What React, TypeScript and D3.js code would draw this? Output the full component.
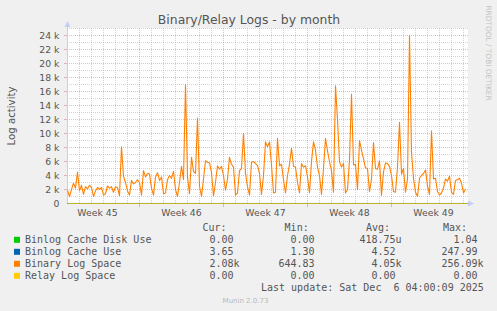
import React from "react";
import * as d3 from "d3";

const W = 497;
const H = 311;

const chartTitle = "Binary/Relay Logs - by month";
const yAxisTitle = "Log activity";
const watermark = "RRDTOOL / TOBI OETIKER";
const versionText = "Munin 2.0.73";
const lastUpdate = "Last update: Sat Dec  6 04:00:09 2025";

const weekLabels = ["Week 45", "Week 46", "Week 47", "Week 48", "Week 49"];
const weekStartDays = [-1, 6, 13, 20, 27];
const totalDays = 400 / 12;
const yTickValues = [0, 2000, 4000, 6000, 8000, 10000, 12000, 14000, 16000, 18000, 20000, 22000, 24000];
const yMax = 25000;

// Binary Log Space, in thousands, one sample every 4 hours
const binaryLogSpace = [
  1.9, 1.0, 2.0, 2.9, 2.2, 4.5, 1.8, 2.6, 1.3, 2.4, 2.1, 2.6,
  2.3, 1.0, 1.8, 2.3, 2.0, 2.3, 1.2, 1.4, 2.5, 2.2, 2.4, 1.6,
  2.4, 2.3, 1.1, 8.1, 3.9, 3.0, 1.8, 1.2, 3.3, 2.8, 3.0, 3.4,
  3.0, 1.2, 4.7, 3.8, 4.3, 4.2, 2.2, 1.2, 3.8, 4.4, 3.3, 3.8,
  1.4, 1.5, 3.4, 4.0, 3.6, 4.6, 2.0, 1.0, 3.0, 5.3, 3.4, 17.0,
  3.8, 1.4, 6.6, 4.6, 4.3, 12.2, 2.5, 1.0, 3.5, 6.1, 5.9, 5.8,
  4.4, 1.1, 3.0, 5.4, 4.9, 5.3, 4.0, 1.9, 3.5, 6.6, 5.6, 5.2,
  1.2, 1.5, 4.7, 5.0, 10.0, 4.3, 2.4, 1.2, 5.9, 6.0, 5.7, 5.4,
  4.3, 1.3, 4.0, 8.8, 8.1, 8.8, 5.5, 1.5, 1.6, 9.3, 5.4, 5.6,
  3.4, 1.5, 4.0, 5.6, 7.9, 5.3, 5.2, 3.0, 1.5, 5.7, 5.2, 5.4,
  3.8, 1.5, 6.0, 8.8, 7.6, 5.2, 4.0, 1.3, 5.0, 9.3, 7.5, 6.0,
  4.7, 1.6, 16.8, 12.0, 6.0, 5.2, 5.7, 1.5, 2.0, 6.2, 15.6, 5.5,
  5.6, 2.0, 9.0, 7.6, 6.4, 5.1, 5.0, 1.7, 3.5, 8.7, 5.0, 4.9,
  6.1, 1.2, 4.5, 5.8, 5.7, 5.3, 4.0, 1.7, 1.6, 5.2, 11.6, 4.2,
  5.0, 1.6, 3.5, 24.0, 7.3, 3.6, 1.6, 1.0, 3.6, 4.0, 4.3, 4.8,
  2.5, 1.3, 10.4, 3.5, 3.6, 1.7, 1.2, 1.5, 2.2, 3.5, 3.2, 3.9,
  1.6, 1.3, 3.3, 3.4, 3.6, 2.9, 1.5, 2.08,
];

const seriesNames = ["Binlog Cache Disk Use", "Binlog Cache Use", "Binary Log Space", "Relay Log Space"];
const seriesColors = ["#00CC00", "#0066B3", "#FF8000", "#FFCC00"];
const curValues = ["0.00", "3.65", "2.08k", "0.00"];
const minValues = ["0.00", "1.30", "644.83", "0.00"];
const avgValues = ["418.75u", "4.52", "4.05k", "0.00"];
const maxValues = ["1.04", "247.99", "256.09k", "0.00"];
const flatLevels = [0.00041875, 4.52, null, 0];

const plotLeft = 67;
const plotRight = 467;
const plotTop = 28;
const plotBottom = 203;

const CW = 6.02; // mono char advance at 10px

export default function App() {
  const x = d3.scaleLinear().domain([0, totalDays]).range([plotLeft + 0.5, plotRight + 0.5]);
  const y = d3.scaleLinear().domain([0, yMax]).range([plotBottom + 0.5, plotTop + 0.5]);

  const samples = binaryLogSpace.map((v, i) => ({ t: i / 6, v: v * 1000 }));
  const line = d3
    .line<{ t: number; v: number }>()
    .x((d) => x(d.t))
    .y((d) => y(d.v));

  const minorY = d3.range(1000, yMax + 1, 1000).filter((v) => v % 2000 !== 0);
  const majorY = yTickValues.filter((v) => v > 0);
  const dayLines = d3.range(1, Math.floor(totalDays) + 1).filter((d) => !weekStartDays.includes(d));
  const weekLines = weekStartDays.filter((d) => d > 0 && d < totalDays);

  const minorStroke = "rgba(150,150,150,0.42)";
  const majorStroke = "rgba(225,80,80,0.42)";
  const textColor = "#555";
  const mono = "'DejaVu Sans Mono', monospace";
  const sans = "'DejaVu Sans', sans-serif";

  const numStart = (s: string, right: number) => {
    const n = s.replace(/[a-zA-Z]$/, "").length;
    return right - n * CW + 0.6;
  };

  const rowBase = [243.3, 255.3, 267.3, 279.3];

  return (
    <svg
      width={W}
      height={H}
      style={{ position: "absolute", left: 0, top: 0, display: "block" }}
      xmlns="http://www.w3.org/2000/svg"
    >
      <rect x={0} y={0} width={W} height={H} fill="#F0F0F0" />
      <rect x={plotLeft} y={plotTop} width={plotRight - plotLeft + 1} height={plotBottom - plotTop} fill="#FFFFFF" />

      {minorY.map((v) => (
        <line key={"my" + v} x1={plotLeft} x2={plotRight + 1} y1={y(v)} y2={y(v)} stroke={minorStroke} strokeDasharray="1,1" />
      ))}
      {dayLines.map((d) => (
        <line key={"dx" + d} x1={x(d)} x2={x(d)} y1={plotTop} y2={plotBottom} stroke={minorStroke} strokeDasharray="1,1" />
      ))}
      {majorY.map((v) => (
        <g key={"My" + v}>
          <line x1={plotLeft} x2={plotRight + 1} y1={y(v)} y2={y(v)} stroke={majorStroke} strokeDasharray="1,1" />
          <line x1={plotLeft - 3} x2={plotLeft} y1={y(v)} y2={y(v)} stroke={majorStroke} />
        </g>
      ))}
      {weekLines.map((d) => (
        <g key={"wx" + d}>
          <line x1={x(d)} x2={x(d)} y1={plotTop} y2={plotBottom} stroke={majorStroke} strokeDasharray="1,1" />
          <line x1={x(d)} x2={x(d)} y1={plotBottom} y2={plotBottom + 4} stroke={majorStroke} />
        </g>
      ))}

      <line x1={plotLeft + 0.5} x2={plotLeft + 0.5} y1={plotBottom + 1} y2={24} stroke="#c5cdf5" />
      <path d={`M${plotLeft - 2.5},27 L${plotLeft + 0.5},21 L${plotLeft + 3.5},27 Z`} fill="#c5cdf5" />
      <line x1={plotLeft} x2={plotRight + 3} y1={plotBottom + 0.5} y2={plotBottom + 0.5} stroke="#c5cdf5" />
      <path d={`M${plotRight + 1},${plotBottom - 2.5} L${plotRight + 7},${plotBottom + 0.5} L${plotRight + 1},${plotBottom + 3.5} Z`} fill="#c5cdf5" />

      {flatLevels.map((lv, i) =>
        lv === null ? null : (
          <line
            key={"flat" + i}
            x1={x(0)}
            x2={x(totalDays)}
            y1={y(lv)}
            y2={y(lv)}
            stroke={seriesColors[i]}
            strokeWidth={1}
            opacity={i === 3 ? 0.75 : 1}
          />
        )
      )}
      <path d={line(samples) || ""} fill="none" stroke={seriesColors[2]} strokeWidth={1.1} strokeLinejoin="round" />

      {yTickValues.map((v) => (
        <text key={"yl" + v} x={59.5} y={y(v) + 3.2} textAnchor="end" fontFamily={sans} fontSize={9.3} fill={textColor}>
          {v === 0 ? "0" : `${v / 1000} k`}
        </text>
      ))}
      {weekLabels.map((lab, i) => (
        <text
          key={lab}
          x={x(weekStartDays[i] + 3.5)}
          y={216}
          textAnchor="middle"
          fontFamily={sans}
          fontSize={9.3}
          fill={textColor}
        >
          {lab}
        </text>
      ))}

      <text x={249} y={24} textAnchor="middle" fontFamily={sans} fontSize={12.4} fill={textColor}>
        {chartTitle}
      </text>
      <text
        transform={`translate(15,116) rotate(-90)`}
        textAnchor="middle"
        fontFamily={sans}
        fontSize={10.2}
        fill={textColor}
      >
        {yAxisTitle}
      </text>
      <text
        transform={`translate(485.5,53) rotate(90)`}
        textAnchor="middle"
        fontFamily={sans}
        fontSize={7.4}
        fill="#c4c4c4"
      >
        {watermark}
      </text>

      <g fontFamily={mono} fontSize={10} fill={textColor} style={{ whiteSpace: "pre" }}>
        <text x={202.4} y={231}>Cur:</text>
        <text x={284.6} y={231}>Min:</text>
        <text x={366} y={231}>Avg:</text>
        <text x={443} y={231}>Max:</text>
        {seriesNames.map((name, i) => (
          <g key={name}>
            <rect x={14} y={rowBase[i] - 6.5} width={6} height={6} fill={seriesColors[i]} />
            <text x={25} y={rowBase[i]}>{name}</text>
            <text x={numStart(curValues[i], 233)} y={rowBase[i]}>{curValues[i]}</text>
            <text x={numStart(minValues[i], 314)} y={rowBase[i]}>{minValues[i]}</text>
            <text x={numStart(avgValues[i], 395)} y={rowBase[i]}>{avgValues[i]}</text>
            <text x={numStart(maxValues[i], 477)} y={rowBase[i]}>{maxValues[i]}</text>
          </g>
        ))}
        <text x={261} y={291} xmlSpace="preserve">{lastUpdate}</text>
      </g>
      <text x={245.5} y={303} textAnchor="middle" fontFamily={sans} fontSize={7} fill="#b8b8b8">
        {versionText}
      </text>
    </svg>
  );
}
